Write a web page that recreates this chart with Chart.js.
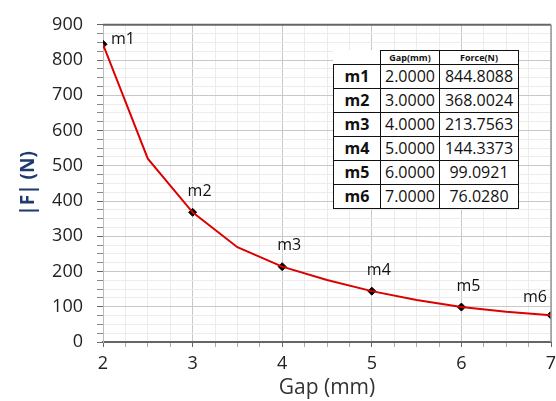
<!DOCTYPE html>
<html>
<head>
<meta charset="utf-8">
<script src="https://cdn.jsdelivr.net/npm/chart.js@4.4.1/dist/chart.umd.min.js"></script>
<style>
  body { margin: 0; background: #fff; }
  #wrap { position: relative; width: 556px; height: 401px; }
  #tbl { position: absolute; left: 333px; top: 50px; border-collapse: collapse; font-family: "Open Sans", sans-serif; background: #fff; }
  #tbl td { border: 1.5px solid #111; padding: 0; text-align: center; color: #111; }
  #tbl tr.head td { height: 13px; font-size: 9px; font-weight: bold; line-height: 13px; }
  #tbl tr.head td.blank { border: none; background: transparent; }
  #tbl tr.row td { height: 23px; font-size: 16px; line-height: 23px; }
  #tbl td.name { width: 46px; font-weight: bold; }
  #tbl td.gap { width: 58px; }
  #tbl td.force { width: 78px; }
</style>
</head>
<body>
<div id="wrap">
  <canvas id="chart" width="556" height="401"></canvas>
  <table id="tbl"></table>
</div>
<script>
// curve points
const gapValues = [2, 2.5, 3, 3.5, 4, 4.5, 5, 5.5, 6, 6.5, 7];
const forceValues = [844.8, 520, 368.0, 269, 213.8, 176, 144.3, 119, 99.1, 86, 76.0];

// markers
const markerNames = ['m1', 'm2', 'm3', 'm4', 'm5', 'm6'];
const markerGap = [2, 3, 4, 5, 6, 7];
const markerForce = [844.8088, 368.0024, 213.7563, 144.3373, 99.0921, 76.0280];

const gapHeader = 'Gap(mm)';
const forceHeader = 'Force(N)';

// build the marker table
const tbl = document.getElementById('tbl');
let html = '<tr class="head"><td class="blank"></td><td>' + gapHeader + '</td><td>' + forceHeader + '</td></tr>';
for (let i = 0; i < markerNames.length; i++) {
  html += '<tr class="row"><td class="name">' + markerNames[i] + '</td><td class="gap">' +
    markerGap[i].toFixed(4) + '</td><td class="force">' + markerForce[i].toFixed(4) + '</td></tr>';
}
tbl.innerHTML = html;

const frame = {
  id: 'frame',
  afterDraw(chart) {
    const { ctx, chartArea: a } = chart;
    ctx.save();
    ctx.strokeStyle = '#666';
    ctx.lineWidth = 2;
    ctx.beginPath();
    ctx.moveTo(a.left, a.top);
    ctx.lineTo(a.right, a.top);
    ctx.stroke();
    ctx.strokeStyle = '#999';
    ctx.lineWidth = 1.5;
    ctx.beginPath();
    ctx.moveTo(a.right, a.top);
    ctx.lineTo(a.right, a.bottom);
    ctx.stroke();

    // marker labels
    const meta = chart.getDatasetMeta(1);
    ctx.font = '16px "Open Sans", sans-serif';
    ctx.fillStyle = '#111';
    ctx.textBaseline = 'middle';
    meta.data.forEach((pt, i) => {
      if (i === 0) {
        ctx.textAlign = 'left';
        ctx.fillText(markerNames[i], pt.x + 8, pt.y - 5);
      } else if (i === markerNames.length - 1) {
        ctx.textAlign = 'right';
        ctx.fillText(markerNames[i], pt.x - 4, pt.y - 18);
      } else {
        ctx.textAlign = 'center';
        ctx.fillText(markerNames[i], pt.x + 7, pt.y - 21);
      }
    });
    ctx.restore();
  }
};

new Chart(document.getElementById('chart'), {
  type: 'scatter',
  data: {
    datasets: [
      {
        data: gapValues.map((g, i) => ({ x: g, y: forceValues[i] })),
        showLine: true,
        borderColor: '#dc0000',
        borderWidth: 2,
        pointRadius: 0,
        tension: 0
      },
      {
        data: markerGap.map((g, i) => ({ x: g, y: markerForce[i] })),
        showLine: false,
        pointStyle: 'rectRot',
        pointRadius: 4,
        backgroundColor: '#000',
        borderColor: '#000',
        borderWidth: 1
      }
    ]
  },
  options: {
    responsive: false,
    animation: false,
    layout: { padding: { left: 0, right: 5, top: 20, bottom: 0 } },
    plugins: { legend: { display: false }, tooltip: { enabled: false } },
    scales: {
      x: {
        type: 'linear',
        min: 2,
        max: 7,
        afterFit(s) { s.height = 59; s.paddingRight = 0; s.paddingLeft = 0; },
        ticks: {
          stepSize: 0.25,
          autoSkip: false,
          maxRotation: 0,
          padding: 6,
          color: '#222',
          font: { family: '"Open Sans", sans-serif', size: 18 },
          callback: v => Number.isInteger(v) ? v : ''
        },
        grid: {
          color: c => Number.isInteger(c.tick.value) ? '#c8c8c8' : '#ececec',
          tickColor: c => Number.isInteger(c.tick.value) ? '#666' : '#aaa',
          tickLength: 5
        },
        border: { color: '#666', width: 2 },
        title: {
          display: true,
          text: 'Gap (mm)',
          color: '#333',
          font: { family: '"Open Sans", sans-serif', size: 21 },
          padding: { top: 0, bottom: 0 }
        }
      },
      y: {
        min: 0,
        max: 900,
        afterFit(s) { s.width = 103; },
        ticks: {
          stepSize: 25,
          autoSkip: false,
          padding: 14,
          color: '#222',
          font: { family: '"Open Sans", sans-serif', size: 18 },
          callback: v => v % 100 === 0 ? v : ''
        },
        grid: {
          color: c => c.tick.value % 100 === 0 ? '#c8c8c8' : '#ececec',
          tickColor: c => c.tick.value % 100 === 0 ? '#666' : '#888',
          tickLength: 6
        },
        border: { color: '#bbb', width: 1 },
        title: {
          display: true,
          text: '|F| (N)',
          color: '#1f3a6e',
          font: { family: '"Open Sans", sans-serif', size: 19, weight: 'bold' },
          padding: { top: 17, bottom: 0 }
        }
      }
    }
  },
  plugins: [frame]
});
</script>
</body>
</html>
